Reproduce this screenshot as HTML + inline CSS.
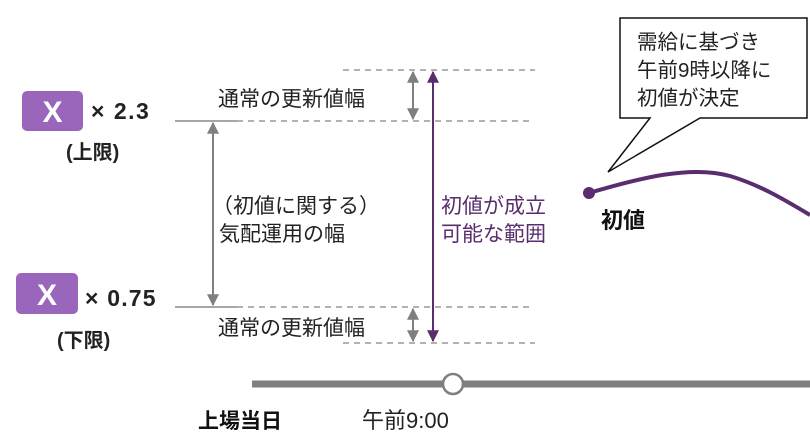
<!DOCTYPE html>
<html><head><meta charset="utf-8"><style>
html,body{margin:0;padding:0;background:#fff;}
svg text{font-family:"Liberation Sans","Noto Sans CJK JP",sans-serif;}
</style></head><body>
<svg width="810" height="439" viewBox="0 0 810 439" xmlns="http://www.w3.org/2000/svg">
<defs>
<marker id="ag" viewBox="0 0 10 10" refX="9" refY="5" markerWidth="6" markerHeight="6" orient="auto-start-reverse"><path d="M0,0 L10,5 L0,10 z" fill="#7f7f7f"/></marker>
<marker id="ap" viewBox="0 0 10 10" refX="9" refY="5" markerWidth="6" markerHeight="6" orient="auto-start-reverse"><path d="M0,0 L10,5 L0,10 z" fill="#5a2d6e"/></marker>
</defs>
<g stroke="#999" stroke-width="1.5" fill="none">
<line x1="343" y1="70" x2="535" y2="70" stroke-dasharray="6,5"/>
<line x1="175" y1="121" x2="237" y2="121" stroke="#888"/>
<line x1="237" y1="121" x2="532" y2="121" stroke-dasharray="6,5"/>
<line x1="175" y1="307" x2="237" y2="307" stroke="#888"/>
<line x1="237" y1="307" x2="532" y2="307" stroke-dasharray="6,5"/>
<line x1="343" y1="343" x2="535" y2="343" stroke-dasharray="6,5"/>
</g>
<g stroke="#7f7f7f" stroke-width="2">
<line x1="413" y1="72" x2="413" y2="119" marker-start="url(#ag)" marker-end="url(#ag)"/>
<line x1="213" y1="123" x2="213" y2="305" marker-start="url(#ag)" marker-end="url(#ag)"/>
<line x1="413" y1="309" x2="413" y2="341" marker-start="url(#ag)" marker-end="url(#ag)"/>
</g>
<line x1="433" y1="72" x2="433" y2="341" stroke="#5a2d6e" stroke-width="2" marker-start="url(#ap)" marker-end="url(#ap)"/>
<rect x="22" y="91" width="61" height="40" rx="5" fill="#9966bb"/>
<text x="52.5" y="122" font-size="30" font-weight="bold" fill="#fff" text-anchor="middle">X</text>
<text x="91" y="119" font-size="23" font-weight="bold" fill="#222" letter-spacing="1.5">× 2.3</text>
<text x="66" y="159" font-size="20" font-weight="bold" fill="#222">(上限)</text>
<rect x="16" y="273" width="62" height="41" rx="5" fill="#9966bb"/>
<text x="47" y="305" font-size="30" font-weight="bold" fill="#fff" text-anchor="middle">X</text>
<text x="85" y="306" font-size="23" font-weight="bold" fill="#222" letter-spacing="1.2">× 0.75</text>
<text x="57" y="347" font-size="20" font-weight="bold" fill="#222">(下限)</text>
<text x="218" y="106" font-size="21" fill="#222">通常の更新値幅</text>
<text x="218" y="335" font-size="21" fill="#222">通常の更新値幅</text>
<text x="212" y="213" font-size="21" fill="#222">（初値に関する）</text>
<text x="219" y="241" font-size="21" fill="#222">気配運用の幅</text>
<text x="441" y="213" font-size="21" fill="#5a2d6e">初値が成立</text>
<text x="441" y="241" font-size="21" fill="#5a2d6e">可能な範囲</text>
<line x1="252" y1="384" x2="810" y2="384" stroke="#7f7f7f" stroke-width="7"/>
<circle cx="453" cy="384" r="10" fill="#fff" stroke="#7f7f7f" stroke-width="2.5"/>
<text x="198" y="428" font-size="21" font-weight="bold" fill="#111">上場当日</text>
<text x="362" y="428" font-size="22" fill="#222">午前9:00</text>
<path d="M589,193 C640,178 690,165 730,176 C760,185 785,200 810,215" stroke="#5a2d6e" stroke-width="4" fill="none"/>
<circle cx="589" cy="193" r="6" fill="#5a2d6e"/>
<text x="601" y="228" font-size="22" font-weight="bold" fill="#111">初値</text>
<path d="M620,18 L807,18 L807,118 L700,118 L608,172 L650,118 L620,118 Z" fill="#fff" stroke="#111" stroke-width="1.5"/>
<text x="637" y="49" font-size="20.5" fill="#222">需給に基づき</text>
<text x="637" y="77" font-size="20.5" fill="#222">午前9時以降に</text>
<text x="637" y="105" font-size="20.5" fill="#222">初値が決定</text>
</svg>
</body></html>
